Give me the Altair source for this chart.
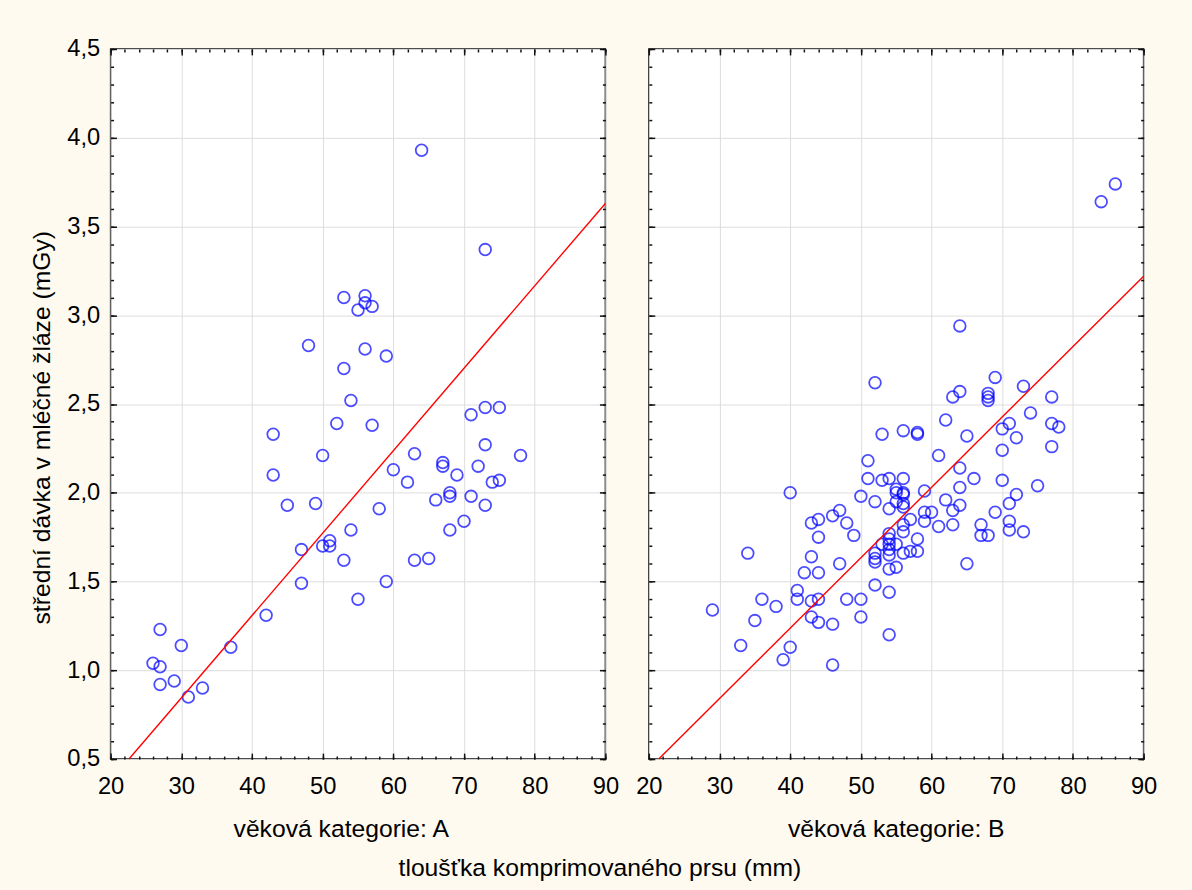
import altair as alt
import pandas as pd

# ---- data ----
a_x = [64, 73, 53, 56, 56, 55, 57, 48, 56, 59, 53, 54, 43, 52, 57, 50, 43, 71, 73, 75,
       73, 78, 63, 60, 67, 67, 69, 72, 62, 74, 75, 45, 49, 66, 68, 68, 71, 73, 58, 70,
       54, 68, 51, 50, 51, 47, 53, 63, 65, 47, 59, 55, 42, 27, 30, 37, 26, 27, 27, 29,
       31, 33]
a_y = [3.93, 3.37, 3.10, 3.11, 3.07, 3.03, 3.05, 2.83, 2.81, 2.77, 2.70, 2.52, 2.33, 2.39,
       2.38, 2.21, 2.10, 2.44, 2.48, 2.48, 2.27, 2.21, 2.22, 2.13, 2.17, 2.15, 2.10, 2.15,
       2.06, 2.06, 2.07, 1.93, 1.94, 1.96, 2.00, 1.98, 1.98, 1.93, 1.91, 1.84, 1.79, 1.79,
       1.73, 1.70, 1.70, 1.68, 1.62, 1.62, 1.63, 1.49, 1.50, 1.40, 1.31, 1.23, 1.14, 1.13,
       1.04, 1.02, 0.92, 0.94, 0.85, 0.90]

b_x = [86, 84, 64, 52, 69, 73, 64, 63, 68, 68, 68, 77,
       62, 53, 56, 58, 58, 65, 70, 71, 74, 77, 78, 72, 77, 70, 51, 61, 64, 66, 70, 75,
       51, 53, 54, 56, 55, 55, 56, 56, 59, 64, 40, 50, 52, 54, 55, 56, 56, 62, 64, 63,
       59, 60, 72, 71, 69, 71, 71, 73, 67, 67, 68, 61, 63, 59, 57, 56, 56, 58, 54, 54,
       54, 54, 53, 55, 52, 52, 52, 54, 56, 57, 58, 54, 55, 65, 52, 54, 54, 47, 46, 44,
       43, 48, 49, 44, 34, 43, 47, 42, 44, 41, 41, 36, 38, 43, 44, 48, 50, 29, 35, 43,
       44, 46, 50, 33, 40, 39, 46]
b_y = [3.74, 3.64, 2.94, 2.62, 2.65, 2.60, 2.57, 2.54, 2.56, 2.54, 2.52, 2.54,
       2.41, 2.33, 2.35, 2.34, 2.33, 2.32, 2.36, 2.39, 2.45, 2.39, 2.37, 2.31, 2.26, 2.24,
       2.18, 2.21, 2.14, 2.08, 2.07, 2.04, 2.08, 2.07, 2.08, 2.08, 2.02, 2.00, 2.00, 1.99,
       2.01, 2.03, 2.00, 1.98, 1.95, 1.91, 1.95, 1.94, 1.92, 1.96, 1.93, 1.90, 1.89, 1.89,
       1.99, 1.94, 1.89, 1.84, 1.79, 1.78, 1.82, 1.76, 1.76, 1.81, 1.82, 1.84, 1.85, 1.82,
       1.78, 1.74, 1.77, 1.74, 1.71, 1.68, 1.71, 1.71, 1.66, 1.63, 1.61, 1.65, 1.66, 1.67,
       1.67, 1.57, 1.58, 1.60, 1.48, 1.44, 1.20, 1.90, 1.87, 1.85, 1.83, 1.83, 1.76, 1.75,
       1.66, 1.64, 1.60, 1.55, 1.55, 1.45, 1.40, 1.40, 1.36, 1.39, 1.40, 1.40, 1.40, 1.34,
       1.28, 1.30, 1.27, 1.26, 1.30, 1.14, 1.13, 1.06, 1.03]

# fitted lines (end points)
line_a_x = [22.6, 90.0]
line_a_y = [0.5, 3.63]
line_b_x = [21.4, 90.0]
line_b_y = [0.5, 3.22]

x_major = [20, 30, 40, 50, 60, 70, 80, 90]
x_minor = [20 + 2 * i for i in range(36)]
y_major = [0.5, 1.0, 1.5, 2.0, 2.5, 3.0, 3.5, 4.0, 4.5]
y_minor = [round(0.5 + 0.1 * i, 1) for i in range(41)]

panel_titles = ["věková kategorie: A", "věková kategorie: B"]
y_title = "střední dávka v mléčné žláze (mGy)"
x_title = "tloušťka komprimovaného prsu (mm)"

FONT = "Liberation Sans"
W, H = 501, 719
GRID = "#dcdcdc"

xs = alt.Scale(domain=[20, 90], nice=False, zero=False)
ys = alt.Scale(domain=[0.5, 4.5], nice=False, zero=False)


def tick_axis(orient, off, vals, size):
    return alt.Axis(orient=orient, offset=off, values=vals, tickSize=size, ticks=True,
                    tickColor="#111111", tickWidth=1.5, tickOpacity=1, labels=False,
                    domain=False, grid=False, title=None, zindex=2)


def panel(px, py, lx, ly, ptitle, show_y, title_x):
    pts = pd.DataFrame({"x": px, "y": py})
    ln = pd.DataFrame({"x": lx, "y": ly})

    x_main = alt.Axis(values=x_major, grid=True, gridColor=GRID, ticks=False,
                      domain=False, labelFontSize=24, labelFont=FONT,
                      labelColor="black", labelPadding=16, labelFlush=False,
                      title=ptitle, titleFont=FONT, titleFontSize=25,
                      titleFontWeight="normal", titleColor="black",
                      titleX=title_x, titleY=58, titleAnchor="middle")
    if show_y:
        y_main = alt.Axis(values=y_major, grid=True, gridColor=GRID, ticks=False,
                          domain=False, labelFontSize=24, labelFont=FONT,
                          labelColor="black", labelPadding=11, labelFlush=False,
                          labelExpr="replace(format(datum.value, '.1f'), '.', ',')",
                          title=y_title, titleFont=FONT, titleFontSize=25,
                          titleFontWeight="normal", titleColor="black",
                          titlePadding=13, titleY=383)
    else:
        y_main = alt.Axis(values=y_major, grid=True, gridColor=GRID, ticks=False,
                          domain=False, labels=False, title=None)

    points = alt.Chart(pts).mark_point(
        shape="circle", filled=False, color="#0000ff", size=140, strokeWidth=1.8
    ).encode(
        x=alt.X("x:Q", scale=xs, axis=x_main),
        y=alt.Y("y:Q", scale=ys, axis=y_main),
    )
    line = alt.Chart(ln).mark_line(color="#ff0000", strokeWidth=1.4).encode(
        x=alt.X("x:Q", scale=xs, axis=tick_axis("top", -H, x_major, 6)),
        y=alt.Y("y:Q", scale=ys, axis=tick_axis("right", -W, y_major, 6)),
    )
    inv1 = alt.Chart(pts).mark_point(opacity=0).encode(
        x=alt.X("x:Q", scale=xs, axis=tick_axis("top", -H, x_minor, 3)),
        y=alt.Y("y:Q", scale=ys, axis=tick_axis("right", -W, y_minor, 3)),
    )
    inv2 = alt.Chart(pts).mark_point(opacity=0).encode(
        x=alt.X("x:Q", scale=xs, axis=tick_axis("bottom", -H, x_major, 6)),
        y=alt.Y("y:Q", scale=ys, axis=tick_axis("left", -W, y_major, 6)),
    )
    inv3 = alt.Chart(pts).mark_point(opacity=0).encode(
        x=alt.X("x:Q", scale=xs, axis=tick_axis("bottom", -H, x_minor, 3)),
        y=alt.Y("y:Q", scale=ys, axis=tick_axis("left", -W, y_minor, 3)),
    )
    return alt.layer(points, line, inv1, inv2, inv3).resolve_axis(
        x="independent", y="independent"
    ).resolve_scale(x="shared", y="shared").properties(width=W, height=H)


pa = panel(a_x, a_y, line_a_x, line_a_y, panel_titles[0], True, 233)
pb = panel(b_x, b_y, line_b_x, line_b_y, panel_titles[1], False, 250)

chart = alt.hconcat(pa, pb, spacing=44, bounds="flush").properties(
    title=alt.TitleParams(x_title, orient="bottom", anchor="middle", fontSize=25,
                          font=FONT, fontWeight="normal", color="black", offset=15,
                          dx=7),
    padding={"left": 28, "top": 31, "right": 34, "bottom": 4},
).configure(background="#fffaf0").configure_view(
    stroke="#111111", strokeWidth=1.5, fill="white"
)

chart.save("out.html", embed_options={"renderer": "svg", "actions": False})
